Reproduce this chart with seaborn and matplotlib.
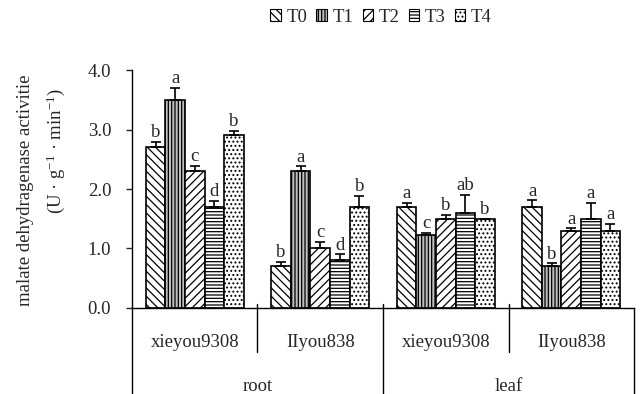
import numpy as np
import pandas as pd
import matplotlib
matplotlib.use("Agg")
import matplotlib.pyplot as plt
import matplotlib.transforms as mtransforms
from matplotlib.patches import Patch
from matplotlib.container import BarContainer
import seaborn as sns

# ---- data -------------------------------------------------------------
tissues = ["root", "leaf"]
varieties = ["xieyou9308", "IIyou838"]
treatments = ["T0", "T1", "T2", "T3", "T4"]

# mean MDH activity per treatment, groups ordered root-xie, root-II, leaf-xie, leaf-II
t0_mean = [2.7, 0.7, 1.7, 1.7]
t1_mean = [3.5, 2.3, 1.22, 0.71]
t2_mean = [2.3, 1.0, 1.5, 1.3]
t3_mean = [1.7, 0.8, 1.6, 1.5]
t4_mean = [2.9, 1.7, 1.5, 1.3]

t0_err = [0.09, 0.08, 0.07, 0.11]
t1_err = [0.20, 0.08, 0.04, 0.04]
t2_err = [0.09, 0.11, 0.07, 0.04]
t3_err = [0.10, 0.10, 0.30, 0.27]
t4_err = [0.08, 0.18, 0.00, 0.11]

t0_sig = ["b", "b", "a", "a"]
t1_sig = ["a", "a", "c", "b"]
t2_sig = ["c", "c", "b", "a"]
t3_sig = ["d", "d", "ab", "a"]
t4_sig = ["b", "b", "b", "a"]

y_ticks = [0.0, 1.0, 2.0, 3.0, 4.0]

means = [t0_mean, t1_mean, t2_mean, t3_mean, t4_mean]
errs = [t0_err, t1_err, t2_err, t3_err, t4_err]
sigs = [t0_sig, t1_sig, t2_sig, t3_sig, t4_sig]

groups = [f"{t} {v}" for t in tissues for v in varieties]
df = pd.DataFrame(
    [(g, tr, means[i][j]) for i, tr in enumerate(treatments) for j, g in enumerate(groups)],
    columns=["group", "treatment", "value"],
)

# ---- style ------------------------------------------------------------
sns.set_style("ticks")
plt.rcParams["font.family"] = ["Liberation Serif", "DejaVu Serif"]
plt.rcParams["mathtext.fontset"] = "custom"
plt.rcParams["mathtext.rm"] = "Liberation Serif"
plt.rcParams["mathtext.it"] = "Liberation Serif:italic"
plt.rcParams["hatch.linewidth"] = 0.9
FS = 13.5

hatches = ["\\\\\\\\", "|||||", "////", "-----", "...."]
faces = ["white", "#c0c0c0", "white", "white", "white"]

fig = plt.figure(figsize=(6.41, 3.94), dpi=100)
ax = fig.add_axes([0.2059, 0.2183, 0.7832, 0.604])

sns.barplot(data=df, x="group", y="value", hue="treatment", order=groups,
            hue_order=treatments, width=0.78, errorbar=None, legend=False, ax=ax)

bar_sets = [c for c in ax.containers if isinstance(c, BarContainer)]
for i, cont in enumerate(bar_sets):
    xs = []
    for p in cont.patches:
        p.set_facecolor(faces[i])
        p.set_edgecolor("black")
        p.set_linewidth(1.2)
        p.set_hatch(hatches[i])
        xs.append(p.get_x() + p.get_width() / 2)
    xs = np.array(xs)
    ys = np.array(means[i])
    es = np.array(errs[i])
    ax.errorbar(xs, ys, yerr=[np.zeros_like(es), es], fmt="none", ecolor="black",
                elinewidth=1.2, capsize=3.5, capthick=1.2, zorder=3)
    for x, y, e, s in zip(xs, ys, es, sigs[i]):
        ax.annotate(s, (x, y + e), xytext=(0, 0.5), textcoords="offset points",
                    ha="center", va="bottom", fontsize=FS)

# ---- axes -------------------------------------------------------------
ax.set_ylim(0, 4.0)
ax.set_yticks(y_ticks)
ax.set_yticklabels([f"{v:.1f}" for v in y_ticks], fontsize=FS)
ax.tick_params(axis="y", direction="out", length=4, width=1, pad=11)
ax.tick_params(axis="x", length=0, labelbottom=False)
ax.set_xlim(-0.5, 3.5)
ax.set_xlabel("")
ax.set_ylabel("")
for side in ["top", "right"]:
    ax.spines[side].set_visible(False)
for side in ["left", "bottom"]:
    ax.spines[side].set_linewidth(1.0)
    ax.spines[side].set_color("black")

# two-level category table beneath the bars
trans = mtransforms.blended_transform_factory(ax.transData, ax.transAxes)
line_kw = dict(color="black", lw=1.0, transform=trans, clip_on=False)
ax.plot([-0.5, -0.5], [0, -0.5], **line_kw)
ax.plot([3.5, 3.5], [0, -0.5], **line_kw)
ax.plot([1.5, 1.5], [0.017, -0.5], **line_kw)
for xd in [0.5, 2.5]:
    ax.plot([xd, xd], [0.017, -0.185], **line_kw)

for j, g in enumerate(groups):
    ax.text(j, -0.164, g.split(" ", 1)[1], transform=trans, ha="center",
            va="baseline", fontsize=FS)
for k, t in enumerate(tissues):
    ax.text(2 * k + 0.5, -0.349, t, transform=trans, ha="center",
            va="baseline", fontsize=FS)

# y-axis title on two lines
fig.text(26 / 641, 0.518, "malate dehydragenase activitie", rotation=90,
         ha="center", va="center", fontsize=FS)
fig.text(56 / 641, 0.618, r"(U · g$^{-1}$ · min$^{-1}$)", rotation=90,
         ha="center", va="center", fontsize=FS)

# legend
handles = [Patch(facecolor=faces[i], edgecolor="black", hatch=hatches[i], lw=0.8,
                 label=treatments[i]) for i in range(5)]
fig.legend(handles=handles, loc="center", bbox_to_anchor=(381 / 641, 1 - 17 / 394),
           ncol=5, frameon=False, fontsize=FS, handlelength=0.55, handleheight=0.55,
           handletextpad=0.3, columnspacing=0.5, borderpad=0)

fig.savefig("out.png", dpi=100)
